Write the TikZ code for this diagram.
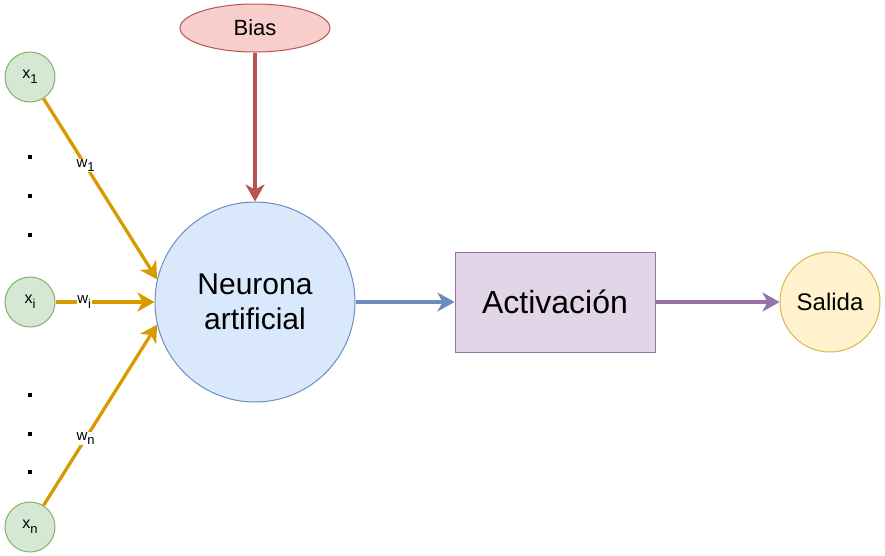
\documentclass[tikz,border=0pt]{standalone}
\usepackage{fontspec}
\setmainfont{Liberation Sans}
\usetikzlibrary{arrows.meta,shapes.geometric}
\definecolor{grF}{HTML}{D5E8D4}\definecolor{grD}{HTML}{82B366}
\definecolor{rdF}{HTML}{F8CECC}\definecolor{rdD}{HTML}{B85450}
\definecolor{blF}{HTML}{DAE8FC}\definecolor{blD}{HTML}{6C8EBF}
\definecolor{puF}{HTML}{E1D5E7}\definecolor{puD}{HTML}{9673A6}
\definecolor{yeF}{HTML}{FFF2CC}\definecolor{yeD}{HTML}{D6B656}
\definecolor{orD}{HTML}{D79B00}
\newcommand{\subidx}[1]{\raisebox{-0.3em}{\fontsize{13}{13}\selectfont #1}}
\tikzset{
  inp/.style={circle, draw=grD, fill=grF, line width=1pt, minimum size=50pt, inner sep=0pt, font=\fontsize{16}{18}\selectfont},
  conn/.style={line width=3.3pt, -{Stealth[length=17pt, width=19pt, inset=5pt]}},
  wlab/.style={fill=white, inner sep=0.5pt, font=\fontsize{15}{17}\selectfont},
  dotmark/.style={fill=black},
}
\begin{document}
\begin{tikzpicture}[x=1pt,y=-1pt]
\useasboundingbox (0,0) rectangle (885,555);
\node[inp] (x1) at (30,77) {x\subidx{1}};
\node[inp] (xi) at (30,302) {x\subidx{i}};
\node[inp] (xn) at (30,527) {x\subidx{n}};
\node[circle, draw=blD, fill=blF, line width=1pt, minimum size=200pt, inner sep=0pt, align=center, font=\fontsize{30}{35}\selectfont] (n) at (255,302) {Neurona\\artificial};
\node[ellipse, draw=rdD, fill=rdF, line width=1pt, minimum width=150pt, minimum height=48pt, inner sep=0pt, font=\fontsize{22}{24}\selectfont] (b) at (255,28) {Bias};
\node[rectangle, draw=puD, fill=puF, line width=1pt, minimum width=200pt, minimum height=100pt, inner sep=0pt, font=\fontsize{32}{34}\selectfont] (a) at (555,302) {Activación};
\node[circle, draw=yeD, fill=yeF, line width=1pt, minimum size=100pt, inner sep=0pt, font=\fontsize{24}{26}\selectfont] (s) at (830,302) {Salida};
\foreach \yy in {157,196,235,395,434,472}
  \fill[dotmark] (28,\yy-2) rectangle (32,\yy+2);
\draw[conn, draw=orD, fill=orD] (x1) -- node[wlab, pos=0.37] {w\subidx{1}} (n.167);
\draw[conn, draw=orD, fill=orD] (xi) -- node[wlab, pos=0.29] {w\subidx{i}} (n.180);
\draw[conn, draw=orD, fill=orD] (xn) -- node[wlab, pos=0.37] {w\subidx{n}} (n.193);
\draw[conn, draw=rdD, fill=rdD] (b) -- (n);
\draw[conn, draw=blD, fill=blD] (n) -- (a);
\draw[conn, draw=puD, fill=puD] (a) -- (s);
\end{tikzpicture}
\end{document}
